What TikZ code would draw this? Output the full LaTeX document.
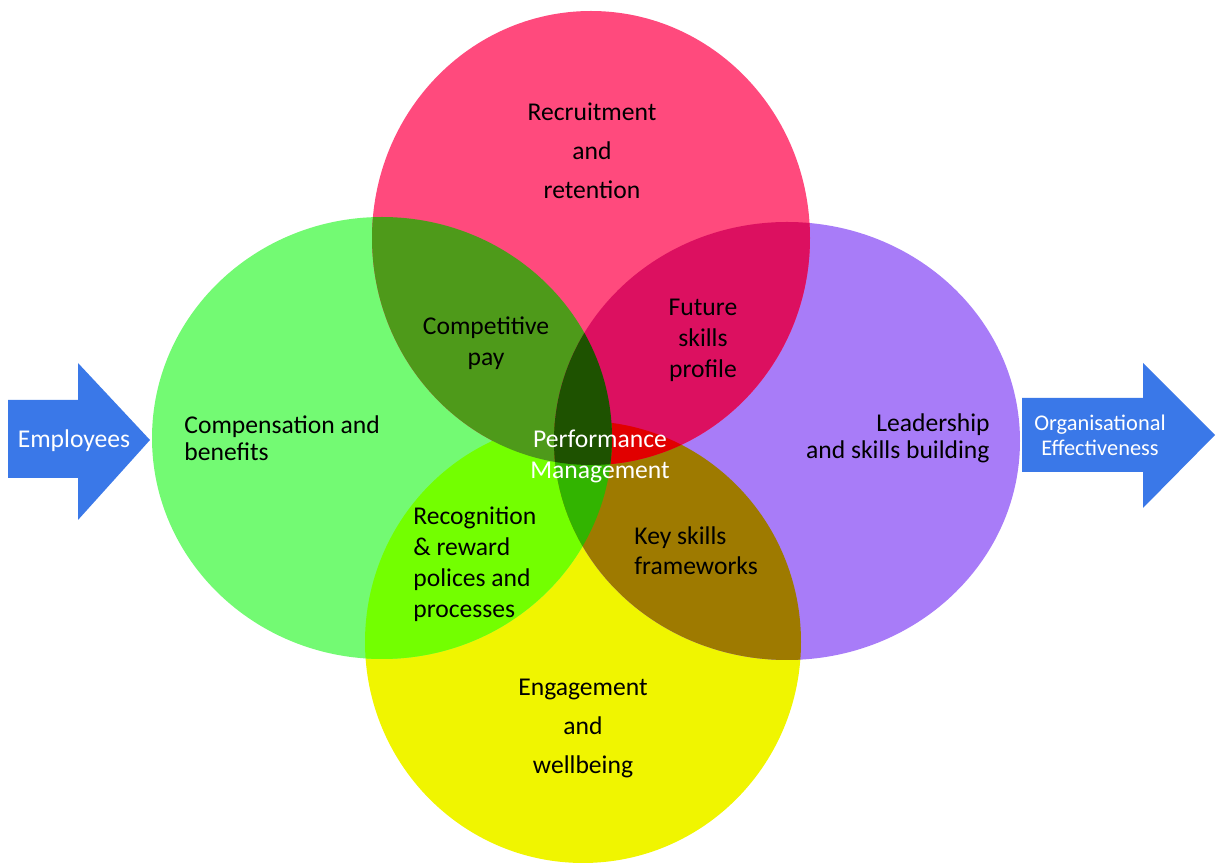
\documentclass[tikz,border=0pt]{standalone}
\usepackage{fontspec}
\setmainfont{Carlito}
\definecolor{cT}{RGB}{255,74,125}
\definecolor{cL}{RGB}{115,250,115}
\definecolor{cR}{RGB}{168,124,248}
\definecolor{cB}{RGB}{240,245,0}
\definecolor{cTL}{RGB}{78,154,26}
\definecolor{cTR}{RGB}{220,16,96}
\definecolor{cLB}{RGB}{115,255,0}
\definecolor{cRB}{RGB}{158,122,0}
\definecolor{cTBR}{RGB}{225,0,0}
\definecolor{cLRB}{RGB}{50,180,0}
\definecolor{cTLR}{RGB}{30,82,0}
\definecolor{cArrow}{RGB}{58,120,232}
\newcommand\ellT{(591,238) ellipse [x radius=109.5pt, y radius=113.5pt]}
\newcommand\ellL{(382,438) ellipse [x radius=115pt, y radius=110.5pt]}
\newcommand\ellR{(787,441) ellipse [x radius=116.5pt, y radius=109.5pt]}
\newcommand\ellB{(583,642) ellipse [x radius=109pt, y radius=110.5pt]}
\tikzset{
  lbl/.style={inner sep=0pt, text=black, font={\fontsize{12.8pt}{15.5pt}\selectfont}},
  wide/.style={font={\fontsize{12.8pt}{19.5pt}\selectfont}},
  wlbl/.style={inner sep=0pt, text=white, font={\fontsize{12.8pt}{15.5pt}\selectfont}},
}
\begin{document}
\begin{tikzpicture}[x=0.5pt,y=-0.5pt]
\useasboundingbox (0,0) rectangle (1223,865);
% base circles
\fill[cB] \ellB;
\fill[cR] \ellR;
\fill[cL] \ellL;
\fill[cT] \ellT;
% pairwise overlaps
\begin{scope}\clip \ellL; \fill[cLB] \ellB; \end{scope}
\begin{scope}\clip \ellR; \fill[cRB] \ellB; \end{scope}
\begin{scope}\clip \ellT; \fill[cTL] \ellL; \end{scope}
\begin{scope}\clip \ellT; \fill[cTR] \ellR; \end{scope}
% triple overlaps
\begin{scope}\clip \ellT; \clip \ellB; \fill[cTBR] \ellR; \end{scope}
\begin{scope}\clip \ellL; \clip \ellR; \fill[cLRB] \ellB; \end{scope}
\begin{scope}\clip \ellT; \clip \ellL; \fill[cTLR] \ellR; \end{scope}
% arrows
\fill[cArrow] (8,400) -- (78,400) -- (78,363) -- (150,440) -- (78,520) -- (78,478) -- (8,478) -- cycle;
\fill[cArrow] (1022,398) -- (1143,398) -- (1143,363) -- (1215,435) -- (1143,508) -- (1143,472) -- (1022,472) -- cycle;
% labels
\node[lbl,wide,align=center] (recruit) at (592,151) {Recruitment\\and\\retention};
\node[lbl,align=center] (comp) at (486,343) {Competitive\\pay};
\node[lbl,align=center] (future) at (703,340) {Future\\skills\\profile};
\node[lbl,align=left,anchor=west,font={\fontsize{12.8pt}{13.5pt}\selectfont}] (compens) at (184,438) {Compensation and\\benefits};
\node[lbl,align=right,anchor=east,font={\fontsize{12.8pt}{13.5pt}\selectfont}] (leader) at (990,438) {Leadership\\and skills building};
\node[wlbl,align=center] (perf) at (600,456) {Performance\\Management};
\node[lbl,align=left,anchor=west] (recog) at (413,564) {Recognition\\\&~reward\\polices and\\processes};
\node[lbl,align=left,anchor=west,font={\fontsize{12.8pt}{15pt}\selectfont}] (key) at (634,551) {Key skills\\frameworks};
\node[lbl,wide,align=center] (engage) at (583,728) {Engagement\\and\\wellbeing};
\node[wlbl] (employees) at (74,441) {Employees};
\node[wlbl,align=center,font={\fontsize{11.2pt}{12.5pt}\selectfont}] (org) at (1100,435) {Organisational\\Effectiveness};
\end{tikzpicture}
\end{document}
